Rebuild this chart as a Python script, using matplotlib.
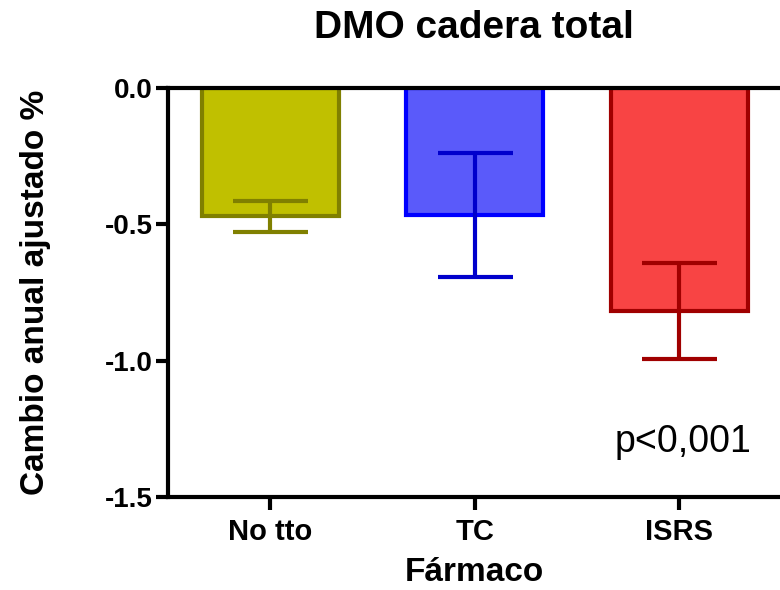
import matplotlib
matplotlib.use("Agg")
import matplotlib.pyplot as plt
import numpy as np

# adjusted annual change in total hip BMD by drug group
farmacos = ["No tto", "TC", "ISRS"]
cambio = [-0.47, -0.465, -0.818]
error = [0.057, 0.228, 0.177]
relleno = ["#C0C000", "#5A5AFA", "#F84444"]
borde = ["#808000", "#0000FF", "#A00000"]
color_error = ["#808000", "#0000CC", "#A00000"]
y_ticks = [0.0, -0.5, -1.0, -1.5]

plt.rcParams['font.family'] = ['Liberation Sans', 'DejaVu Sans']

fig = plt.figure(figsize=(7.8, 5.9), dpi=100)
ax = fig.add_axes([168 / 780, 93 / 590, 1 - 168 / 780 + 0.002, 409 / 590])

x = np.arange(len(farmacos))
ax.bar(x, cambio, width=0.67, color=relleno, edgecolor=borde, linewidth=3, zorder=2)
for xi, yi, ei, ce in zip(x, cambio, error, color_error):
    ax.errorbar(xi, yi, yerr=ei, fmt='none', ecolor=ce, elinewidth=3,
                capsize=27, capthick=3, zorder=3)

ax.set_xlim(-0.5, 2.5)
ax.set_ylim(-1.5, 0.0)
ax.set_xticks(x)
ax.set_xticklabels(farmacos, fontsize=21, fontweight='bold')
ax.set_yticks(y_ticks)
ax.set_yticklabels(["%.1f" % v for v in y_ticks], fontsize=20, fontweight='bold')
ax.tick_params(axis='both', direction='out', length=9, width=3)
ax.tick_params(axis='x', pad=6)
ax.tick_params(axis='y', pad=2)

for side in ['left', 'bottom', 'top']:
    ax.spines[side].set_linewidth(3)
    ax.spines[side].set_zorder(4)
ax.spines['right'].set_visible(False)

ax.set_ylabel("Cambio anual ajustado %", fontsize=24, fontweight='bold', labelpad=39)
ax.set_xlabel("Fármaco", fontsize=24, fontweight='bold', labelpad=8)
ax.text(2.02, -1.30, "p<0,001", fontsize=27, ha='center', va='center')

fig.text(474 / 780, 1 - 28 / 590, "DMO cadera total", fontsize=28,
         fontweight='bold', ha='center', va='center')

fig.savefig("out.png", dpi=100)
